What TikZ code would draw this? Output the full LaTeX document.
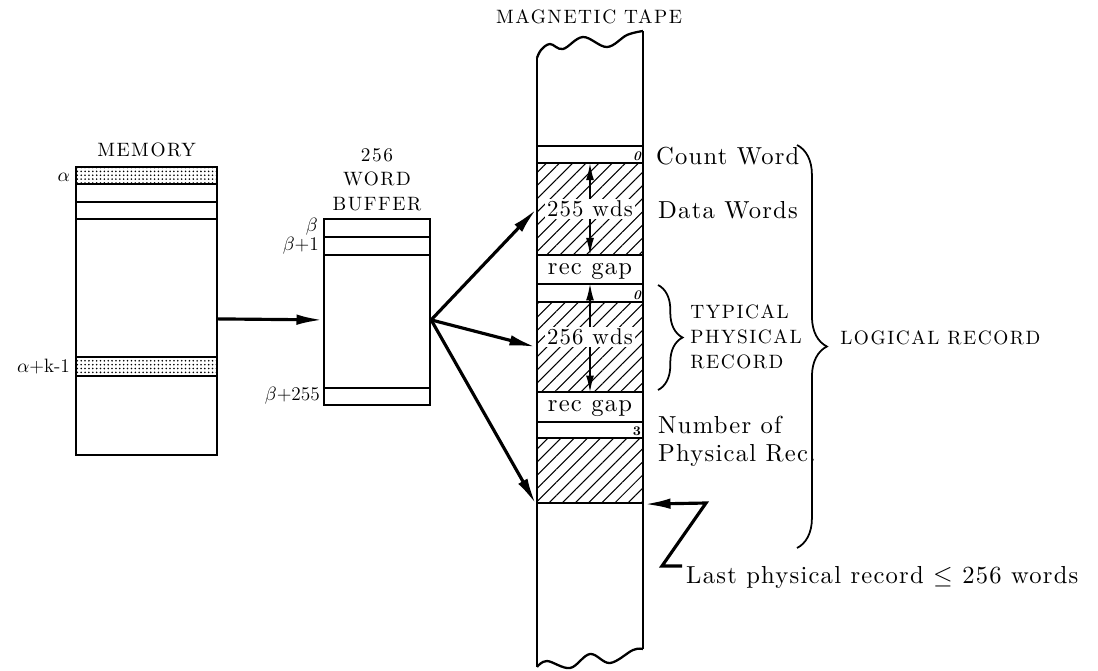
\documentclass[tikz,border=0pt]{standalone}
\usepackage{amsmath,amssymb}
\usepackage{fontspec}
\newfontfamily\capsfont{lmroman10-regular.otf}[LetterSpace=8]
\newfontfamily\bodyfont{lmroman10-regular.otf}[LetterSpace=5]
\usepackage{tikz}
\usetikzlibrary{arrows.meta,positioning,calc,fit,patterns.meta,decorations.pathreplacing}

\begin{document}
\begin{tikzpicture}[x=0.02cm,y=-0.02cm,>=Latex,every node/.style={font=\bodyfont\fontsize{14}{16}\selectfont}]
\tikzstyle{box}=[draw,line width=1.3pt,inner sep=0pt]
\tikzstyle{dotband}=[box,pattern={Dots[distance=2.2pt,radius=0.5pt]}]
\tikzstyle{hatch}=[box,pattern={Lines[angle=45,distance=5.3pt,line width=0.6pt]}]
\tikzstyle{caption}=[font=\capsfont\fontsize{11}{14.2}\selectfont,align=center,inner sep=0pt]
\tikzstyle{addr}=[font=\fontsize{11}{13}\selectfont,anchor=east,inner sep=1pt]
\tikzstyle{lbl}=[anchor=west,align=left]
\tikzstyle{wds}=[fill=white,inner sep=1pt,font=\bodyfont\fontsize{13}{15}\selectfont]
\tikzstyle{cnt}=[font=\fontsize{7.5}{8}\selectfont\bfseries,anchor=south east,inner sep=1.6pt]
\tikzstyle{flow}=[line width=1.8pt,-{Latex[length=15pt,width=6pt]}]
\tikzstyle{dim}=[line width=1.2pt,-{Latex[length=10pt,width=4.5pt]}]
\tikzstyle{curly}=[line width=1pt,decorate]
\tikzstyle{tape}=[line width=1.3pt]
\useasboundingbox (0,0) rectangle (1098,670);

% memory
\node[box,fit={(76,167) (217,455)}] (mem) {};
\node[dotband,fit={(76,167) (217,184)}] (alpha) {};
\node[box,fit={(76,184) (217,202)}] (mrow1) {};
\node[box,fit={(76,202) (217,219)}] (mrow2) {};
\node[dotband,fit={(76,357) (217,376)}] (alphak) {};
\node[caption,above=5pt of mem] (memlbl) {MEMORY};
\node[addr] (alab) at (72,177) {$\alpha$};
\node[addr] (aklab) at (72,367) {$\alpha$+k-1};

% buffer
\node[box,fit={(324,219) (430,405)}] (buf) {};
\node[box,fit={(324,219) (430,237)}] (b0) {};
\node[box,fit={(324,237) (430,255)}] (b1) {};
\node[box,fit={(324,388) (430,405)}] (b255) {};
\node[caption,above=3.5pt of buf] (buflbl) {256\\WORD\\BUFFER};
\node[addr] (blab0) at (320,227) {$\beta$};
\node[addr] (blab1) at (321,246) {$\beta$+1};
\node[addr] (blab255) at (322,396) {$\beta$+255};

% tape
\node[box,fit={(537,146) (643,163)}] (cw1) {};
\node[hatch,fit={(537,163) (643,255)}] (d1) {};
\node[box,fit={(537,255) (643,284)}] (gap1) {};
\node[box,fit={(537,284) (643,302)}] (cw2) {};
\node[hatch,fit={(537,302) (643,392)}] (d2) {};
\node[box,fit={(537,392) (643,422)}] (gap2) {};
\node[box,fit={(537,422) (643,438)}] (cw3) {};
\node[hatch,fit={(537,438) (643,503)}] (d3) {};
\draw[tape] plot[smooth,tension=0.6] coordinates {(537,58) (541,50) (550,44) (563,49) (583,37) (607,47) (627,35) (643,31)};
\draw[tape] plot[smooth,tension=0.6] coordinates {(537,667) (547,661) (570,668) (590,654) (610,663) (633,650) (643,649)};
\draw[tape] (537,58) -- (537,667);
\draw[tape] (643,31) -- (643,649);
\node[caption] (tapelbl) at (589,17) {MAGNETIC TAPE};
\node[anchor=base] (g1) at (590,274) {rec gap};
\node[anchor=base] (g2) at (590,411) {rec gap};
\node[cnt] (c1) at (cw1.south east) {\itshape 0};
\node[cnt] (c2) at (cw2.south east) {\itshape 0};
\node[cnt] (c3) at (cw3.south east) {3};

\node[wds] (w1) at (590,209) {255 wds};
\draw[dim] (w1.north) -- (w1.north |- d1.north);
\draw[dim] (w1.south) -- (w1.south |- d1.south);
\node[wds] (w2) at (590,337) {256 wds};
\draw[dim] (w2.north) -- (w2.north |- cw2.north);
\draw[dim] (w2.south) -- (w2.south |- d2.south);

% labels
\node[lbl] (cwlbl) at (650,156) {Count Word};
\node[lbl] (dwlbl) at (652,210) {Data Words};
\node[lbl] (nplbl) at (652,441) {Number of\\Physical Rec.};
\draw[curly,decoration={brace,amplitude=14pt}] (658,285) -- (658,390);
\node[caption,lbl] (typ) at (690,337) {TYPICAL\\PHYSICAL\\RECORD};
\draw[curly,decoration={brace,amplitude=17pt}] (797,145) -- (797,548);
\node[caption,lbl] (lrec) at (840,338) {LOGICAL RECORD};

% flows
\draw[flow] ([yshift=-4.5pt]mem.east) -- ([yshift=-4.5pt]buf.west);
\draw[flow] ([yshift=-4.5pt]buf.east) -- (d1.west);
\draw[flow] ([yshift=-4.5pt]buf.east) -- (d2.west);
\draw[flow] ([yshift=-4.5pt]buf.east) -- (d3.south west);
\coordinate (zend) at (682,566);
\draw[flow] (zend) -- (662,566) -- (706,503) -- (d3.south east);
\node[lbl] (last) at (680,577) {Last physical record $\leq$ 256 words};
\end{tikzpicture}
\end{document}
